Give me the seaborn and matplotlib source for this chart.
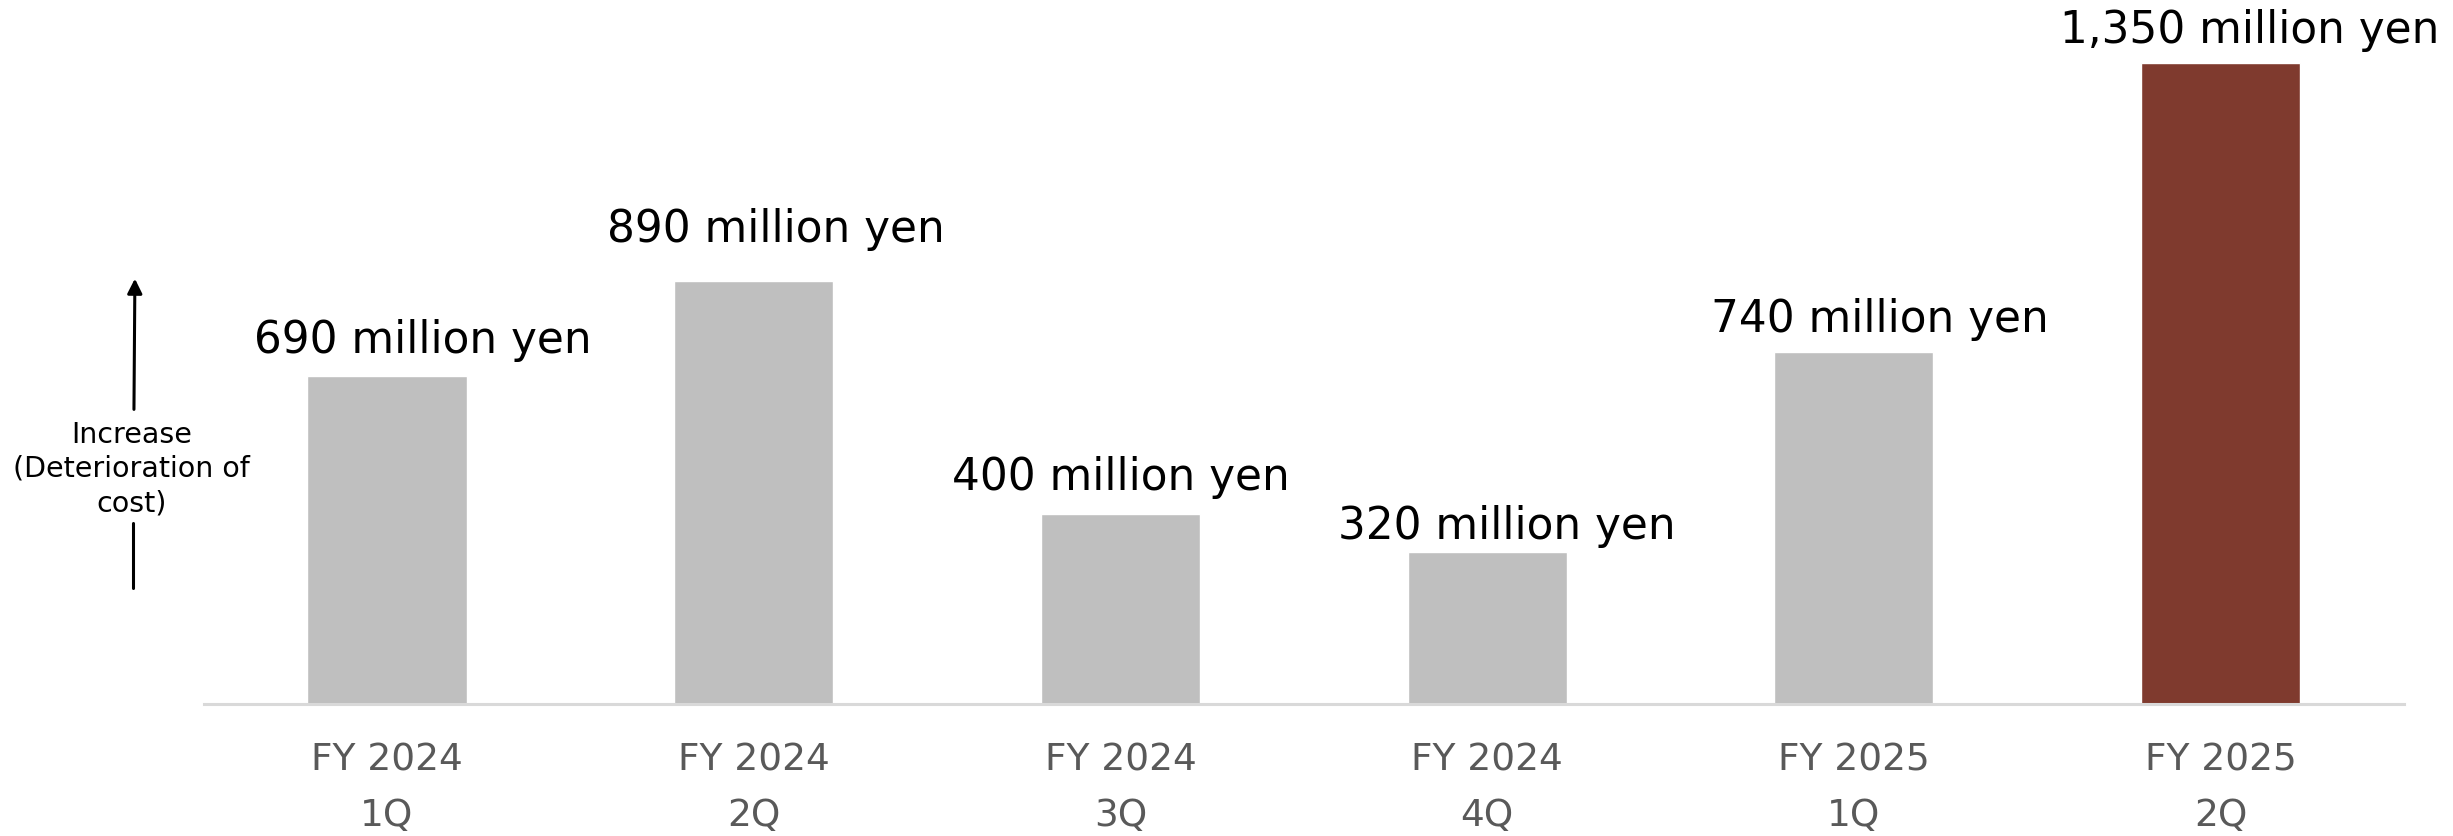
from matplotlib import pyplot as plt
import seaborn as sns
import pandas as pd

# quarterly cost deterioration, million yen
fiscal_years = ['FY 2024', 'FY 2024', 'FY 2024', 'FY 2024', 'FY 2025', 'FY 2025']
quarters = ['1Q', '2Q', '3Q', '4Q', '1Q', '2Q']
values = [690, 890, 400, 320, 740, 1350]
bar_colors = ['#BFBFBF', '#BFBFBF', '#BFBFBF', '#BFBFBF', '#BFBFBF', '#7F3A2E']

# label nudges (points), the source places its value boxes by hand
label_dx = [26, 16, 0, 14, 19, 21]
label_dy = [0, 11, 0, -8, -2, -3]

periods = [f'{fy}\n{q}' for fy, q in zip(fiscal_years, quarters)]
df = pd.DataFrame({'period': periods, 'value': values})

sns.set_style('white')
plt.rcParams['font.family'] = ['DejaVu Sans']

fig = plt.figure(figsize=(24.53, 8.36), dpi=100)
ax = fig.add_axes([0.083, 0.158, 0.897, 0.842])

sns.barplot(data=df, x='period', y='value', hue='period', palette=bar_colors,
            legend=False, width=0.434, saturation=1, ax=ax)

ax.set_xlim(-0.5, 5.5)
ax.set_ylim(0, 1482)
ax.set_xlabel('')
ax.set_ylabel('')
ax.set_yticks([])
for s in ['top', 'right', 'left']:
    ax.spines[s].set_visible(False)
ax.spines['bottom'].set_color('#D9D9D9')
ax.spines['bottom'].set_linewidth(2.2)
ax.tick_params(axis='x', length=0, pad=28, labelsize=27, labelcolor='#595959')
for t in ax.get_xticklabels():
    t.set_linespacing(1.7)

# value labels above bars
for i, v in enumerate(values):
    ax.annotate(f'{v:,} million yen', xy=(i, v), xytext=(label_dx[i], 17 + label_dy[i]),
                textcoords='offset points', ha='center', va='baseline',
                fontsize=31.5, color='black', annotation_clip=False)

# "increase" arrow on the left
fig.text(0.0535, 0.439, 'Increase\n(Deterioration of\ncost)', ha='center', va='center',
         fontsize=20.5, color='black', linespacing=1.28)
fig.add_artist(plt.Line2D([0.0542, 0.0542], [0.297, 0.374], transform=fig.transFigure,
                          color='black', lw=2.2))
ax.annotate('', xy=(0.0550, 0.670), xytext=(0.0546, 0.507), xycoords='figure fraction',
            textcoords='figure fraction',
            arrowprops=dict(arrowstyle='-|>', color='black', lw=2.2, mutation_scale=22))

plt.savefig('out.png', dpi=100)
